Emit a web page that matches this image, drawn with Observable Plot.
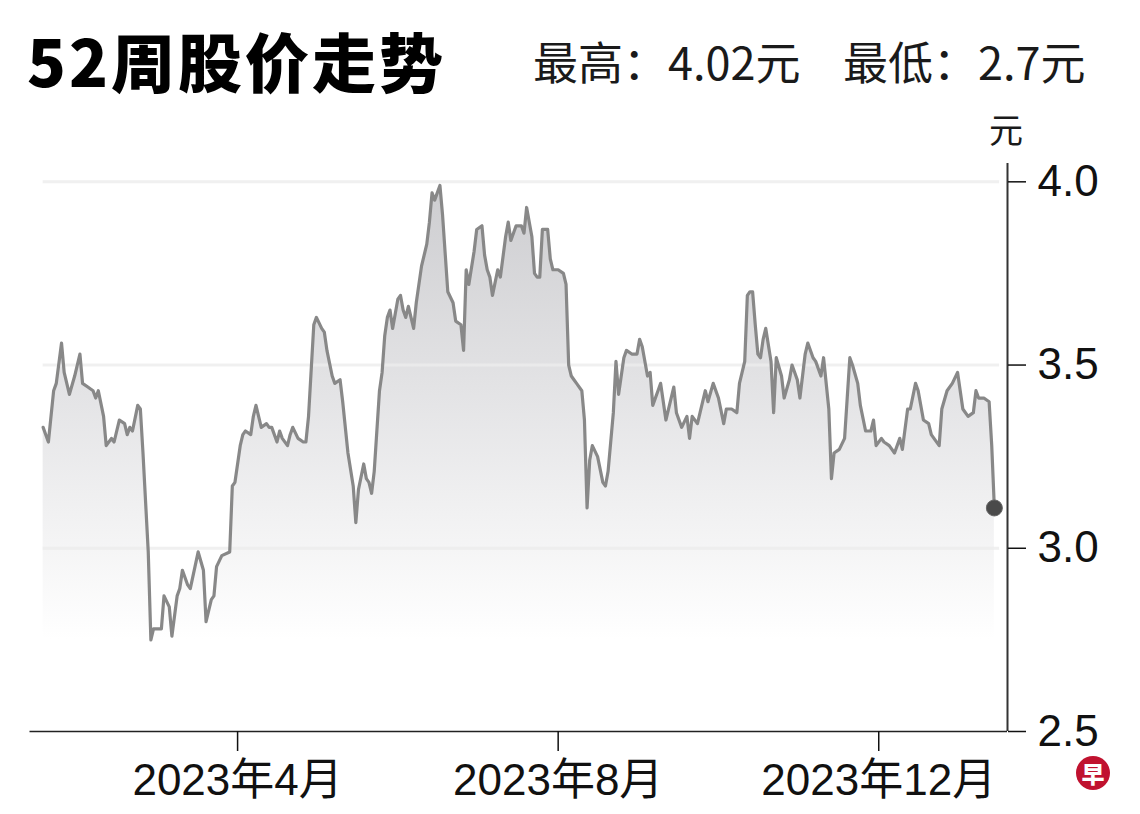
<!DOCTYPE html>
<html>
<head>
<meta charset="utf-8">
<script src="https://cdn.jsdelivr.net/npm/d3@7"></script>
<script src="https://cdn.jsdelivr.net/npm/@observablehq/plot@0.6"></script>
<style>
  html, body { margin: 0; padding: 0; background: #fff; }
  body { width: 1140px; height: 814px; position: relative; overflow: hidden; }
  .title { position: absolute; left: 27px; top: 27px; font-family: "Noto Sans CJK SC", sans-serif; font-weight: 900; font-size: 64px; line-height: 1; color: #000; letter-spacing: 3px; }
  .sub { position: absolute; top: 38px; font-family: "Noto Sans CJK SC", sans-serif; font-size: 45px; line-height: 1; color: #1a1a1a; }
  .unit { position: absolute; left: 989px; top: 112px; font-family: "Noto Sans CJK SC", sans-serif; font-size: 34px; line-height: 1; color: #1a1a1a; }
  .logo { position: absolute; left: 1076px; top: 756px; width: 34px; height: 34px; border-radius: 50%; background: #c0122f; color: #fff; font-family: "Noto Sans CJK SC", sans-serif; font-weight: 900; font-size: 23px; line-height: 34px; text-align: center; }
  #chart { position: absolute; left: 0; top: 100px; }
</style>
</head>
<body>
<div class="title">52周股价走势</div>
<div class="sub" style="left:533px">最高：4.02元</div>
<div class="sub" style="left:843px">最低：2.7元</div>
<div class="unit">元</div>
<div id="chart"></div>
<div class="logo">早</div>
<script>
const dates = [
"2023-01-17","2023-01-18","2023-01-19","2023-01-21","2023-01-22","2023-01-24","2023-01-25","2023-01-27","2023-01-29","2023-01-31",
"2023-02-01","2023-02-03","2023-02-05","2023-02-06","2023-02-07","2023-02-09","2023-02-10","2023-02-12","2023-02-13","2023-02-15",
"2023-02-17","2023-02-18","2023-02-19","2023-02-20","2023-02-22","2023-02-23","2023-02-24","2023-02-26","2023-02-27","2023-02-28",
"2023-03-03","2023-03-04","2023-03-06","2023-03-07","2023-03-09","2023-03-10","2023-03-11","2023-03-13","2023-03-14","2023-03-17",
"2023-03-19","2023-03-20","2023-03-22","2023-03-23","2023-03-24","2023-03-26","2023-03-29","2023-03-30","2023-03-31","2023-04-02",
"2023-04-03","2023-04-04","2023-04-06","2023-04-07","2023-04-08","2023-04-09","2023-04-10","2023-04-12","2023-04-13","2023-04-14",
"2023-04-16","2023-04-17","2023-04-18","2023-04-20","2023-04-21","2023-04-22","2023-04-24","2023-04-26","2023-04-27","2023-04-28",
"2023-04-30","2023-05-01","2023-05-03","2023-05-04","2023-05-05","2023-05-07","2023-05-08","2023-05-10","2023-05-11","2023-05-13",
"2023-05-15","2023-05-16","2023-05-17","2023-05-19","2023-05-20","2023-05-21","2023-05-22","2023-05-23","2023-05-25","2023-05-26",
"2023-05-27","2023-05-28","2023-05-29","2023-05-30","2023-05-31","2023-06-01","2023-06-02","2023-06-03","2023-06-04","2023-06-05",
"2023-06-06","2023-06-07","2023-06-08","2023-06-10","2023-06-12","2023-06-13","2023-06-14","2023-06-15","2023-06-17","2023-06-18",
"2023-06-20","2023-06-22","2023-06-23","2023-06-25","2023-06-26","2023-06-27","2023-06-28","2023-06-30","2023-07-01","2023-07-03",
"2023-07-04","2023-07-05","2023-07-06","2023-07-07","2023-07-09","2023-07-10","2023-07-12","2023-07-13","2023-07-14","2023-07-16",
"2023-07-18","2023-07-19","2023-07-20","2023-07-22","2023-07-23","2023-07-24","2023-07-25","2023-07-26","2023-07-28","2023-07-29",
"2023-07-30","2023-08-01","2023-08-03","2023-08-04","2023-08-05","2023-08-06","2023-08-07","2023-08-08","2023-08-10","2023-08-11",
"2023-08-12","2023-08-13","2023-08-14","2023-08-16","2023-08-18","2023-08-19","2023-08-20","2023-08-22","2023-08-23","2023-08-24",
"2023-08-26","2023-08-27","2023-08-29","2023-08-31","2023-09-01","2023-09-02","2023-09-04","2023-09-05","2023-09-06","2023-09-08",
"2023-09-09","2023-09-11","2023-09-12","2023-09-14","2023-09-15","2023-09-17","2023-09-19","2023-09-20","2023-09-21","2023-09-23",
"2023-09-24","2023-09-26","2023-09-27","2023-09-29","2023-10-01","2023-10-03","2023-10-04","2023-10-06","2023-10-08","2023-10-09",
"2023-10-11","2023-10-12","2023-10-13","2023-10-14","2023-10-15","2023-10-16","2023-10-17","2023-10-18","2023-10-19","2023-10-21",
"2023-10-22","2023-10-23","2023-10-25","2023-10-26","2023-10-28","2023-10-29","2023-10-31","2023-11-01","2023-11-03","2023-11-04",
"2023-11-06","2023-11-07","2023-11-09","2023-11-10","2023-11-12","2023-11-13","2023-11-14","2023-11-16","2023-11-18","2023-11-19",
"2023-11-20","2023-11-21","2023-11-23","2023-11-24","2023-11-26","2023-11-28","2023-11-29","2023-11-30","2023-12-02","2023-12-03",
"2023-12-05","2023-12-07","2023-12-09","2023-12-10","2023-12-12","2023-12-13","2023-12-15","2023-12-16","2023-12-18","2023-12-20",
"2023-12-21","2023-12-24","2023-12-25","2023-12-27","2023-12-29","2023-12-31","2024-01-01","2024-01-02","2024-01-04","2024-01-06",
"2024-01-07","2024-01-08","2024-01-10","2024-01-12","2024-01-13","2024-01-14"
];
const prices = [
3.33,3.31,3.29,3.43,3.45,3.56,3.48,3.42,3.47,3.53,
3.45,3.44,3.43,3.41,3.43,3.36,3.28,3.30,3.29,3.35,
3.34,3.31,3.33,3.32,3.39,3.38,3.26,2.99,2.75,2.78,
2.78,2.87,2.84,2.76,2.87,2.89,2.94,2.90,2.89,2.99,
2.94,2.80,2.86,2.87,2.95,2.98,2.99,3.17,3.18,3.28,
3.31,3.32,3.31,3.36,3.39,3.36,3.33,3.34,3.33,3.33,
3.29,3.32,3.30,3.28,3.31,3.33,3.30,3.29,3.29,3.36,
3.61,3.63,3.60,3.59,3.54,3.47,3.45,3.46,3.40,3.26,
3.17,3.07,3.16,3.23,3.19,3.18,3.15,3.21,3.43,3.48,
3.58,3.63,3.65,3.60,3.64,3.68,3.69,3.65,3.63,3.66,
3.63,3.60,3.67,3.77,3.83,3.89,3.97,3.95,3.99,3.91,
3.70,3.67,3.62,3.61,3.54,3.76,3.72,3.81,3.87,3.88,
3.80,3.76,3.74,3.69,3.76,3.74,3.85,3.89,3.84,3.88,
3.88,3.86,3.93,3.85,3.75,3.74,3.74,3.87,3.87,3.79,
3.76,3.76,3.75,3.72,3.50,3.47,3.46,3.45,3.43,3.35,
3.11,3.24,3.28,3.25,3.18,3.17,3.21,3.37,3.51,3.42,
3.52,3.54,3.53,3.53,3.57,3.55,3.47,3.48,3.39,3.43,
3.45,3.35,3.38,3.44,3.37,3.33,3.36,3.30,3.36,3.34,
3.37,3.43,3.40,3.45,3.41,3.34,3.38,3.38,3.37,3.45,
3.51,3.69,3.70,3.70,3.61,3.53,3.52,3.57,3.60,3.51,
3.37,3.52,3.47,3.41,3.46,3.50,3.46,3.41,3.53,3.56,
3.52,3.51,3.47,3.52,3.38,3.19,3.26,3.27,3.30,3.41,
3.52,3.50,3.45,3.39,3.32,3.32,3.35,3.28,3.30,3.29,
3.28,3.26,3.30,3.27,3.38,3.38,3.45,3.43,3.35,3.34,
3.31,3.28,3.38,3.43,3.45,3.48,3.43,3.38,3.36,3.37,
3.43,3.41,3.41,3.40,3.28,3.11
];
const yTicks = [2.5, 3.0, 3.5, 4.0];
const gridValues = [3.0, 3.5, 4.0];
const xTickDates = ["2023-04-01", "2023-08-01", "2023-12-01"];
const xTickLabels = ["2023年4月", "2023年8月", "2023年12月"];
const xDomain = ["2023-01-12", "2024-01-19"];
const gridEnd = "2024-01-16";

const data = dates.map((d, i) => ({date: new Date(d), price: prices[i]}));
const last = data[data.length - 1];
const xEnd = new Date(xDomain[1]);

const chart = Plot.plot({
  width: 1140,
  height: 714,
  marginLeft: 29.5,
  marginRight: 133,
  marginTop: 63,
  marginBottom: 83,
  style: {fontFamily: "'Liberation Sans Narrow','Liberation Sans','Noto Sans CJK SC',sans-serif", color: "#111", background: "transparent", overflow: "visible"},
  x: {type: "utc", domain: xDomain.map(d => new Date(d))},
  y: {domain: [2.5, 4.05]},
  marks: [
    Plot.areaY(data, {x: "date", y1: 2.5, y2: "price", fill: "url(#fadeGrad)", curve: "linear"}),
    Plot.ruleY(gridValues, {x1: data[0].date, x2: new Date(gridEnd), stroke: "#ececec", strokeWidth: 3, strokeOpacity: 0.8}),
    Plot.lineY(data, {x: "date", y: "price", stroke: "#888", strokeWidth: 3.2, strokeLinejoin: "round"}),
    Plot.ruleY([2.5], {stroke: "#222", strokeWidth: 1.5}),
    Plot.ruleX([xEnd], {y1: 2.5, y2: 4.05, stroke: "#333", strokeWidth: 2}),
    Plot.axisY({anchor: "right", ticks: yTicks, tickFormat: d3.format(".1f"), tickSize: 18, tickPadding: 12, fontSize: 44, label: null, strokeWidth: 1.5}),
    Plot.axisX({ticks: xTickDates.map(d => new Date(d)), tickFormat: (d, i) => xTickLabels[i], tickSize: 20, tickPadding: 12, fontSize: 44, label: null, strokeWidth: 1.5}),
    Plot.dot([last], {x: "date", y: "price", r: 8, fill: "#4a4a4a", stroke: "#666", strokeWidth: 1})
  ]
});

const yScale = chart.scale("y");
const svg = d3.select(chart);
const defs = svg.insert("defs", ":first-child");
const grad = defs.append("linearGradient")
  .attr("id", "fadeGrad")
  .attr("gradientUnits", "userSpaceOnUse")
  .attr("x1", 0).attr("x2", 0)
  .attr("y1", yScale.apply(4.0)).attr("y2", yScale.apply(2.75));
grad.append("stop").attr("offset", 0).attr("stop-color", "#cdcdd0");
grad.append("stop").attr("offset", 0.45).attr("stop-color", "#e3e3e5");
grad.append("stop").attr("offset", 1).attr("stop-color", "#ffffff");

document.getElementById("chart").appendChild(chart);
</script>
</body>
</html>
